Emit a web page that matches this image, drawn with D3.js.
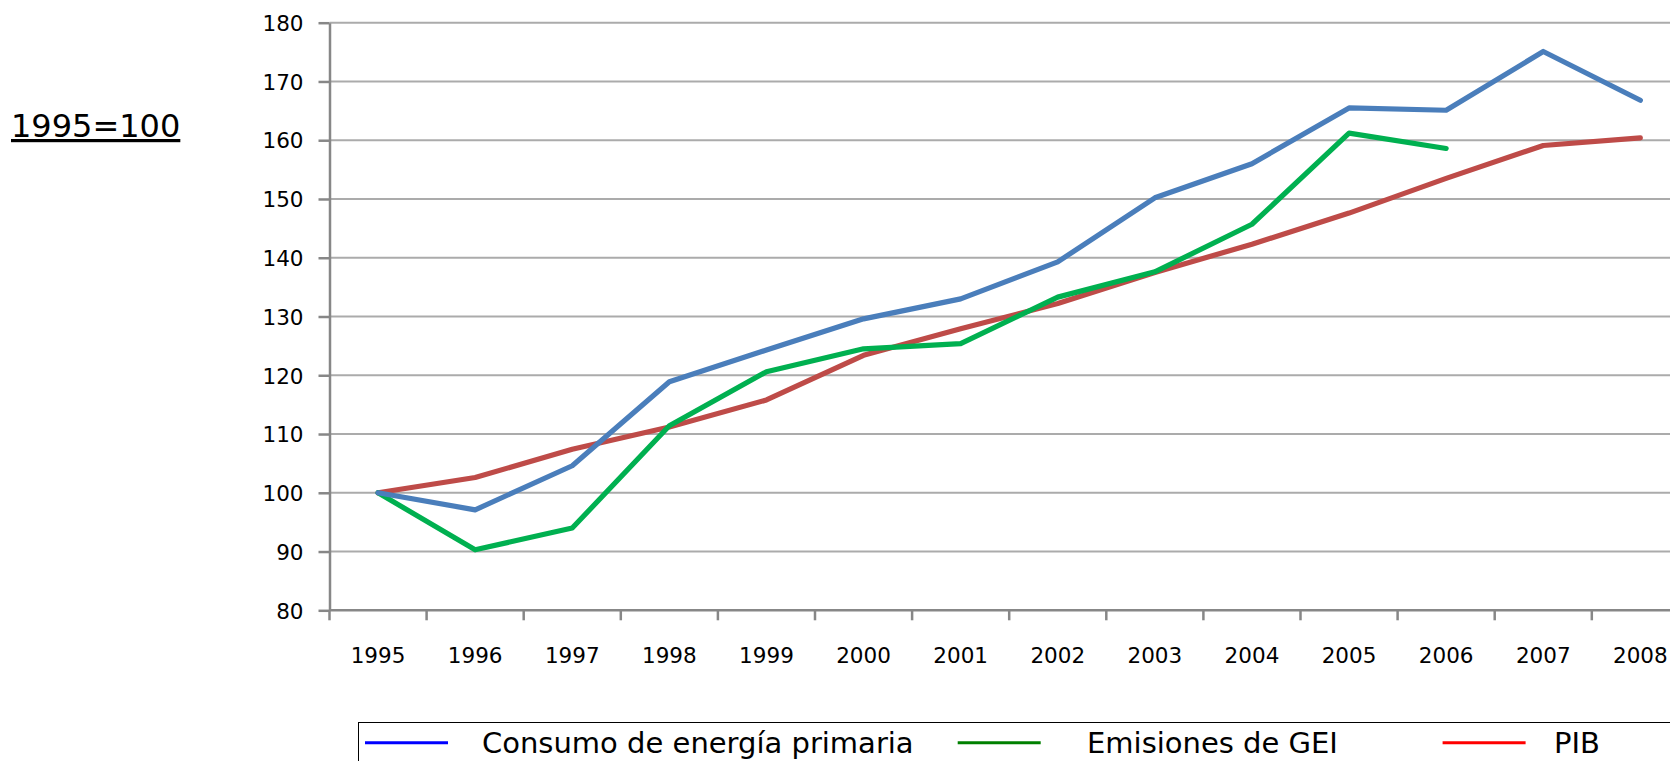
<html>
<head>
<meta charset="utf-8">
<script src="https://d3js.org/d3.v7.min.js"></script>
<style>
body { margin: 0; background: #fff; }
svg { display: block; }
text { font-family: "DejaVu Sans", Verdana, sans-serif; fill: #000; }
.grid line { stroke: #ababab; stroke-width: 2; }
.axis path, .axis line { stroke: #878787; stroke-width: 2.5; }
</style>
</head>
<body>
<svg width="1670" height="761"></svg>
<script>

var years = ["1995","1996","1997","1998","1999","2000","2001","2002","2003","2004","2005","2006","2007","2008"];
var consumo = [100, 97.1, 104.6, 118.9, 124.3, 129.6, 133.0, 139.3, 150.2, 156.0, 165.5, 165.1, 175.1, 166.8];
var emisiones = [100, 90.3, 94.0, 111.4, 120.6, 124.5, 125.4, 133.3, 137.6, 145.7, 161.2, 158.6, null, null];
var pib = [100, 102.6, 107.4, 111.2, 115.8, 123.4, 127.9, 132.2, 137.5, 142.3, 147.6, 153.5, 159.1, 160.4];
var yTicks = [80, 90, 100, 110, 120, 130, 140, 150, 160, 170, 180];
var seriesNames = ["Consumo de energía primaria", "Emisiones de GEI", "PIB"];

var svg = d3.select("svg"),
    margin = {top: 22.7, left: 329.5},
    width = 1359.4,
    height = 587.6;

var x = d3.scaleBand()
    .domain(years)
    .range([margin.left, margin.left + width]);

var y = d3.scaleLinear()
    .domain([80, 180])
    .range([margin.top + height, margin.top]);

// unit label
svg.append("text")
    .attr("x", 11).attr("y", 137)
    .style("font-size", "32px")
    .style("text-decoration", "underline")
    .text("1995=100");

// gridlines
svg.append("g").attr("class", "grid")
    .selectAll("line")
    .data(yTicks.slice(1))
  .enter().append("line")
    .attr("x1", margin.left)
    .attr("x2", margin.left + width)
    .attr("y1", d => y(d))
    .attr("y2", d => y(d));

// y axis
var yAxis = svg.append("g")
    .attr("class", "axis")
    .attr("transform", "translate(" + margin.left + ",0)")
    .call(d3.axisLeft(y).tickValues(yTicks).tickSize(11).tickSizeOuter(0).tickPadding(15));
yAxis.selectAll("text").style("font-size", "21.5px").attr("dy", "0.36em");

// x axis: labels centered, ticks on band boundaries
var xAxis = svg.append("g")
    .attr("class", "axis")
    .attr("transform", "translate(0," + (margin.top + height) + ")")
    .call(d3.axisBottom(x).tickSize(0).tickSizeOuter(0).tickPadding(37));
xAxis.select(".domain").attr("d", "M" + margin.left + ",0H" + (margin.left + width));
xAxis.selectAll("text").style("font-size", "21.5px").attr("dy", "0.73em");

xAxis.selectAll(".bound")
    .data(years)
  .enter().append("line")
    .attr("class", "bound")
    .attr("x1", d => x(d))
    .attr("x2", d => x(d))
    .attr("y1", 0)
    .attr("y2", 10);

// lines
var series = [
    {name: seriesNames[0], values: consumo, color: "#4a7ebb", key: "#0000ff"},
    {name: seriesNames[1], values: emisiones, color: "#00b050", key: "#008000"},
    {name: seriesNames[2], values: pib, color: "#be4b48", key: "#ff0000"}
];

var line = d3.line()
    .defined(d => d.v != null)
    .x(d => x(d.year) + x.bandwidth() / 2)
    .y(d => y(d.v));

// PIB underneath, consumo on top
[series[2], series[1], series[0]].forEach(function(s) {
    svg.append("path")
        .datum(years.map((yr, i) => ({year: yr, v: s.values[i]})))
        .attr("fill", "none")
        .attr("stroke", s.color)
        .attr("stroke-width", 5.2)
        .attr("stroke-linejoin", "round")
        .attr("stroke-linecap", "round")
        .attr("d", line);
});

// legend
var legend = svg.append("g");
legend.append("rect")
    .attr("x", 358.5).attr("y", 722.5)
    .attr("width", 1400).attr("height", 100)
    .attr("fill", "none").attr("stroke", "#000").attr("stroke-width", 1);

var legendX = [365, 957.7, 1442.6];
var legendTextX = [482, 1087, 1554];
series.forEach(function(s, i) {
    legend.append("line")
        .attr("x1", legendX[i]).attr("x2", legendX[i] + 83)
        .attr("y1", 742.7).attr("y2", 742.7)
        .attr("stroke", s.key).attr("stroke-width", 3);
    legend.append("text")
        .attr("x", legendTextX[i]).attr("y", 753)
        .style("font-size", "29px")
        .text(s.name);
});

</script>
</body>
</html>
